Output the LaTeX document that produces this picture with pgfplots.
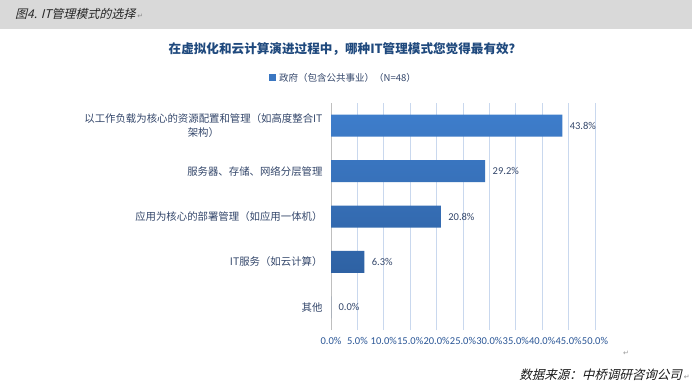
\documentclass[border=0pt]{standalone}
\usepackage{pgfplots}
\pgfplotsset{compat=1.18}
\usepackage{fontspec}
\setmainfont{Noto Sans CJK SC}
\newfontfamily\cjk{Noto Sans CJK SC}
\newfontfamily\cjkit[FakeSlant=0.25]{Noto Sans CJK SC}
\newfontfamily\num{Carlito}
\newfontfamily\sym{DejaVu Sans}
\definecolor{titleblue}{HTML}{1F497D}
\definecolor{labelblue}{HTML}{34476B}
\definecolor{tickblue}{HTML}{2B5797}
\definecolor{gridblue}{HTML}{C9D8EE}
\definecolor{bartop}{HTML}{3E7DCB}
\definecolor{barbot}{HTML}{2A5A98}
\definecolor{headgrey}{HTML}{D9D9D9}
\begin{document}
\begin{tikzpicture}[x=1pt,y=1pt]
\path[use as bounding box] (0,0) rectangle (692,386);
\fill[white] (0,0) rectangle (692,386);
\fill[headgrey] (0,357) rectangle (692,386);
\node[anchor=west,inner sep=0,text=black!85] at (15,372) {\cjkit\fontsize{12}{14}\selectfont 图4. IT管理模式的选择\hspace{2pt}{\sym\fontsize{7}{8}\selectfont\color{black!45}↵}};
\node[inner sep=0,text=titleblue] at (345,337) {\cjk\bfseries\fontsize{12.6}{15}\selectfont 在虚拟化和云计算演进过程中，哪种IT管理模式您觉得最有效？};
\fill[bartop!80!barbot] (269,305) rectangle (276,312);
\node[anchor=west,inner sep=0,text=labelblue] at (279,308.5) {\cjk\fontsize{9.5}{12}\selectfont 政府（包含公共事业）（N=48）};
\begin{axis}[
  at={(331pt,56pt)}, anchor=south west,
  width=264pt, height=227pt, scale only axis,
  xbar, bar width=22pt,
  xmin=0, xmax=50, ymin=-0.5, ymax=4.5,
  xtick={0,5,...,50},
  ytick={0,1,2,3,4},
  yticklabels={其他, IT服务（如云计算）, 应用为核心的部署管理（如应用一体机）, 服务器、存储、网络分层管理, {以工作负载为核心的资源配置和管理（如高度整合IT\\架构）}},
  yticklabel style={align=center, text=labelblue, font=\cjk\fontsize{10.4}{13.5}\selectfont, xshift=-5pt},
  xticklabel={\pgfmathprintnumber[fixed,fixed zerofill,precision=1]{\tick}\%},
  xticklabel style={text=tickblue, font=\num\fontsize{10.5}{12}\selectfont, yshift=-4pt},
  /pgf/number format/assume math mode=true,
  major tick length=0pt,
  xmajorgrids, grid style={draw=gridblue, line width=0.7pt},
  axis lines*=left,
  x axis line style={draw=none},
  y axis line style={draw=black!25, line width=0.7pt},
  nodes near coords={\pgfmathprintnumber[fixed,fixed zerofill,precision=1]{\pgfplotspointmeta}\%},
  nodes near coords style={text=labelblue, font=\num\fontsize{10.5}{12}\selectfont, anchor=west, xshift=4pt},
  clip=false,
]
\addplot[draw=none, top color=bartop, bottom color=barbot] coordinates {(43.8,4) (29.2,3) (20.8,2) (6.3,1) (0,0)};
\end{axis}
\node[inner sep=0,text=black!40] at (626,33) {\sym\fontsize{7}{8}\selectfont ↵};
\node[anchor=east,inner sep=0,text=black!90] at (690,11) {\cjkit\fontsize{12.5}{14}\selectfont 数据来源：中桥调研咨询公司\hspace{2pt}{\sym\fontsize{7}{8}\selectfont\color{black!45}↵}};
\end{tikzpicture}
\end{document}
